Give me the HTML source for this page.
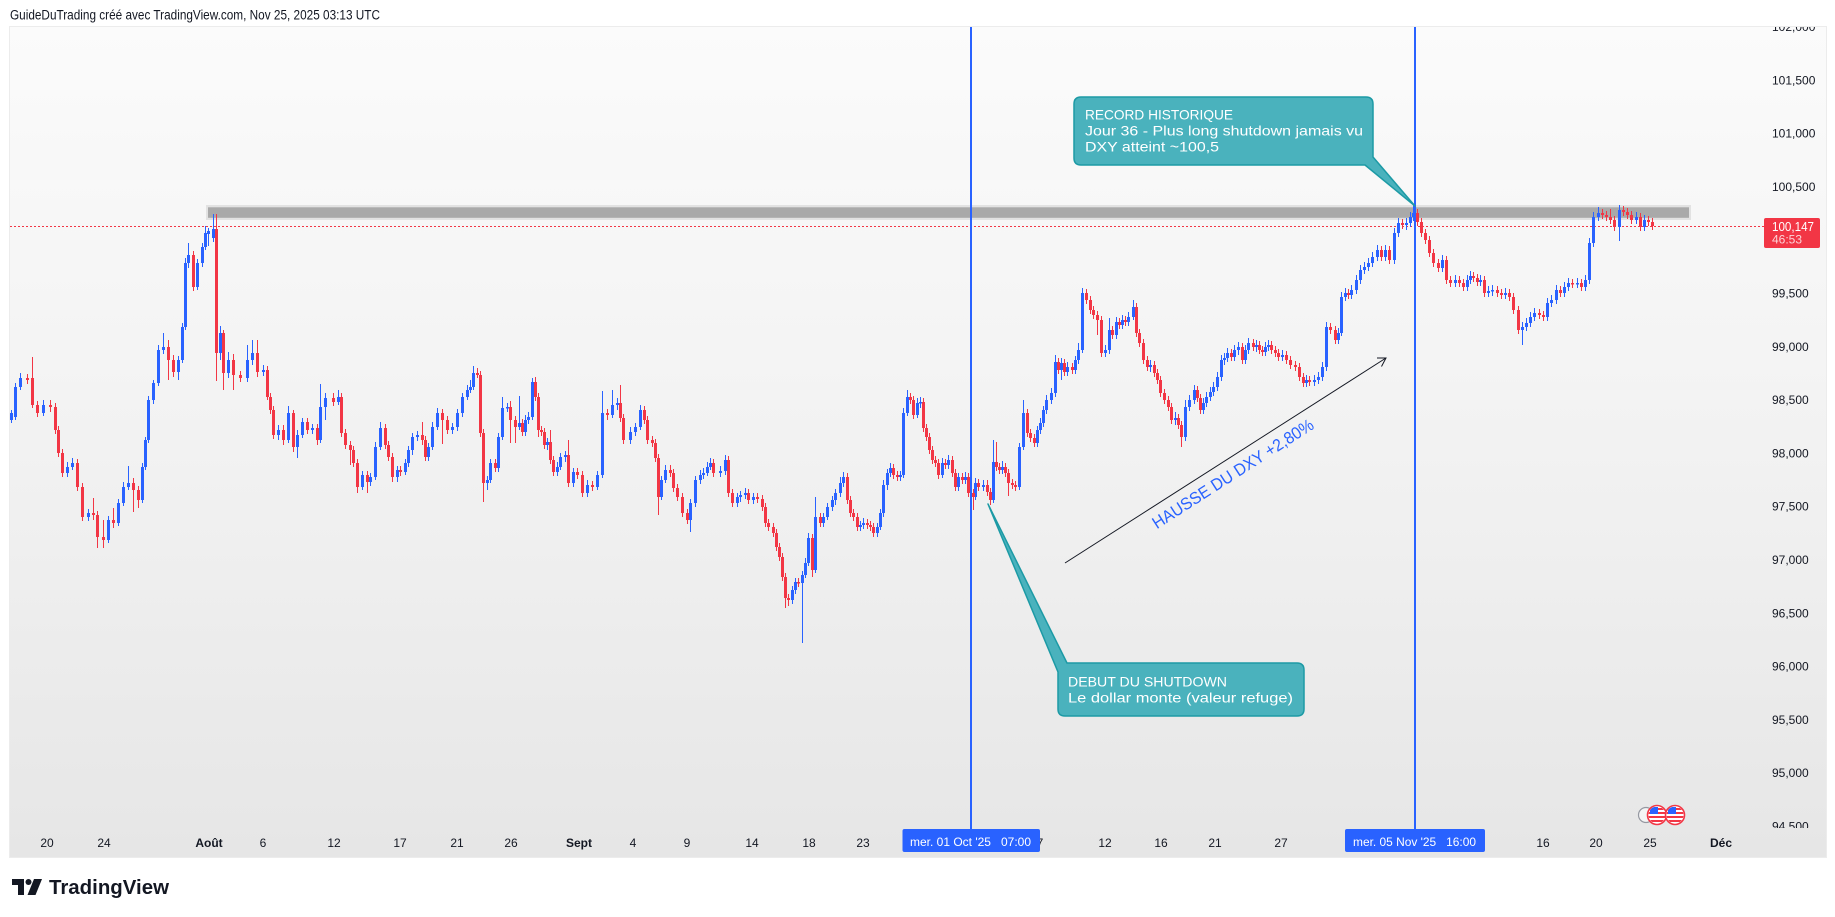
<!DOCTYPE html>
<html>
<head>
<meta charset="utf-8">
<style>
  html,body{margin:0;padding:0;background:#fff;}
  body{width:1835px;height:917px;overflow:hidden;}
  svg{display:block;font-family:"Liberation Sans",Arial,sans-serif;}
</style>
</head>
<body>
<svg width="1835" height="917" viewBox="0 0 1835 917">
  <defs>
    <linearGradient id="bg" x1="0" y1="0" x2="0" y2="1">
      <stop offset="0" stop-color="#fbfbfb"/>
      <stop offset="0.5" stop-color="#f2f2f2"/>
      <stop offset="1" stop-color="#e6e6e6"/>
    </linearGradient>
    <clipPath id="pclip"><rect x="1700" y="27" width="130" height="801"/></clipPath>
    <clipPath id="f1"><circle cx="1657" cy="815" r="8.5"/></clipPath>
    <clipPath id="f2"><circle cx="1675" cy="815" r="8.5"/></clipPath>
  </defs>

  <rect x="0" y="0" width="1835" height="917" fill="#ffffff"/>
  <text x="10" y="19.5" font-size="13.5" fill="#131722" textLength="370" lengthAdjust="spacingAndGlyphs">GuideDuTrading créé avec TradingView.com, Nov 25, 2025 03:13 UTC</text>

  <rect x="9.5" y="26.5" width="1817" height="831" fill="url(#bg)" stroke="#ececec" stroke-width="1"/>

  <rect x="206" y="205" width="1485" height="15" fill="#e2e2e2"/>
  <rect x="208" y="207.3" width="1481" height="10.5" fill="#a9a9a9"/>

  <line x1="10" y1="226.5" x2="1764" y2="226.5" stroke="#F23645" stroke-width="1" stroke-dasharray="2 2"/>

  <!-- blue (up) candles -->
  <path fill="none" stroke="#2962FF" stroke-width="1" d="M11.5 410V423M15.5 383V420M20.5 373V390M43.5 400V416M67.5 462V477M72.5 458V470M88.5 509V521M108.5 516V543M118.5 499V526M123.5 482V506M128.5 466V490M142.5 463V503M145.5 437V470M148.5 396V443M153.5 380V404M158.5 345V386M163.5 333V354M178.5 356V380M182.5 323V363M185.5 258V330M188.5 243V268M197.5 259V290M202.5 243V267M205.5 226V250M208.5 228V246M213.5 214V242M220.5 326V360M228.5 352V378M247.5 345V382M252.5 340V365M263.5 365V376M278.5 425V440M288.5 406V443M297.5 430V458M302.5 418V438M312.5 424V434M320.5 384V443M325.5 393V420M338.5 390V405M362.5 471V490M370.5 473V486M375.5 442V480M380.5 422V450M397.5 466V482M405.5 459V475M408.5 446V467M412.5 433V455M417.5 431V441M428.5 443V461M432.5 422V450M437.5 408V430M452.5 423V434M457.5 409V431M462.5 393V417M467.5 385V400M470.5 380V393M473.5 366V390M487.5 476V490M490.5 459V483M498.5 433V472M502.5 397V440M507.5 403V412M519.5 396V430M525.5 415V436M528.5 412V424M532.5 378V420M547.5 438V450M557.5 462V476M560.5 453V470M565.5 451V462M573.5 468V487M587.5 480V497M597.5 471V490M602.5 391V478M612.5 390V418M617.5 398V410M630.5 427V444M635.5 423V436M640.5 405V430M661.5 476V500M665.5 465V483M690.5 499V532M695.5 476V507M700.5 470V484M703.5 468V479M707.5 462V476M710.5 458V470M720.5 466V477M725.5 455V475M737.5 493V507M740.5 491V502M745.5 488V499M753.5 493V504M792.5 586V604M795.5 578V594M802.5 571V643M805.5 558V578M808.5 533V566M815.5 497V573M823.5 513V527M827.5 503V520M832.5 496V511M835.5 489V505M840.5 477V497M843.5 472V487M860.5 521V531M863.5 518V529M877.5 523V537M880.5 509V530M883.5 480V517M887.5 469V490M890.5 463V477M900.5 471V481M903.5 408V478M907.5 390V416M917.5 398V418M920.5 397V408M942.5 458V478M948.5 455V469M958.5 473V491M965.5 472V484M975.5 478V500M983.5 480V491M993.5 440V503M1002.5 461V474M1019.5 443V490M1023.5 400V450M1037.5 426V447M1040.5 418V434M1043.5 406V427M1046.5 395V414M1051.5 388V404M1055.5 355V397M1061.5 358V380M1067.5 362V376M1075.5 356V374M1078.5 343V364M1082.5 288V353M1105.5 345V357M1109.5 318V354M1116.5 317V339M1122.5 315V329M1128.5 312V326M1133.5 300V320M1150.5 360V372M1175.5 412V425M1185.5 400V441M1189.5 395V411M1194.5 385V404M1203.5 398V414M1206.5 392V407M1210.5 387V401M1213.5 382V396M1217.5 372V391M1221.5 355V381M1224.5 353V365M1227.5 348V362M1234.5 345V361M1238.5 342V355M1245.5 345V364M1248.5 338V354M1256.5 340V352M1265.5 342V356M1268.5 340V351M1282.5 350V361M1306.5 375V387M1314.5 375V386M1318.5 372V384M1322.5 362V381M1326.5 322V371M1338.5 328V344M1341.5 292V336M1345.5 288V301M1351.5 285V299M1356.5 275V294M1360.5 265V284M1364.5 262V274M1368.5 258V271M1372.5 252V267M1377.5 245V261M1385.5 245V261M1394.5 228V264M1398.5 218V237M1406.5 218V230M1410.5 212V227M1413.5 205V221M1442.5 255V272M1455.5 275V287M1467.5 275V291M1470.5 271V284M1480.5 275V286M1488.5 286V297M1492.5 285V296M1505.5 288V299M1522.5 322V345M1526.5 318V331M1530.5 312V327M1534.5 308V321M1547.5 298V321M1551.5 295V307M1556.5 285V304M1564.5 282V297M1568.5 278V291M1577.5 278V288M1585.5 275V291M1589.5 238V284M1593.5 212V247M1598.5 207V221M1619.5 205V241M1636.5 212V224M1644.5 215V231"/>
  <path fill="none" stroke="#2962FF" stroke-width="3" d="M11.5 413V420M15.5 387V417M20.5 378V387M43.5 405V413M67.5 467V473M72.5 463V467M88.5 513V517M108.5 520V540M118.5 503V523M123.5 487V503M128.5 483V487M142.5 467V500M145.5 440V467M148.5 400V440M153.5 383V400M158.5 350V383M163.5 347V350M178.5 360V372M182.5 327V360M185.5 263V327M188.5 255V263M197.5 263V287M202.5 247V263M205.5 233V247M208.5 231V234M213.5 229V238M220.5 333V353M228.5 360V373M247.5 360V378M252.5 353V360M263.5 370V372M278.5 430V435M288.5 413V440M297.5 435V447M302.5 422V435M312.5 428V430M320.5 407V440M325.5 398V407M338.5 397V402M362.5 475V487M370.5 477V482M375.5 447V477M380.5 428V447M397.5 470V477M405.5 463V472M408.5 450V463M412.5 437V450M417.5 435V437M428.5 447V457M432.5 427V447M437.5 413V427M452.5 427V430M457.5 413V427M462.5 397V413M467.5 390V397M470.5 387V390M473.5 373V387M487.5 480V483M490.5 463V480M498.5 437V468M502.5 408V437M507.5 407V408.5M519.5 423V427M525.5 420V432M528.5 417V420M532.5 382V417M547.5 442V445M557.5 467V472M560.5 457V467M565.5 455V457M573.5 472V483M587.5 485V493M597.5 475V487M602.5 413V475M612.5 405V415M617.5 403V405M630.5 432V440M635.5 427V432M640.5 410V427M661.5 480V497M665.5 470V480M690.5 503V520M695.5 480V503M700.5 475V480M703.5 473V475M707.5 467V473M710.5 463V467M720.5 471V473M725.5 460V471M737.5 497V503M740.5 495V497M745.5 493V495M753.5 497V500M792.5 590V600M795.5 582V590M802.5 575V583M805.5 563V575M808.5 538V563M815.5 517V570M823.5 517V523M827.5 507V517M832.5 500V507M835.5 493V500M840.5 483V493M843.5 477V483M860.5 525V527M863.5 523V525M877.5 527V533M880.5 513V527M883.5 485V513M887.5 473V485M890.5 468V473M900.5 475V477M903.5 413V475M907.5 397V413M917.5 403V415M920.5 402V403.5M942.5 463V475M948.5 460V465M958.5 477V487M965.5 477V480M975.5 483V497M983.5 485V487M993.5 462V500M1002.5 467V470M1019.5 447V487M1023.5 413V447M1037.5 430V443M1040.5 423V430M1043.5 410V423M1046.5 400V410M1051.5 393V400M1055.5 362V393M1061.5 363V370M1067.5 367V372M1075.5 360V370M1078.5 350V360M1082.5 293V350M1105.5 350V353M1109.5 330V350M1116.5 322V335M1122.5 320V325M1128.5 317V322M1133.5 307V317M1150.5 365V367M1175.5 418V420M1185.5 407V437M1189.5 400V407M1194.5 390V400M1203.5 403V410M1206.5 397V403M1210.5 392V397M1213.5 387V392M1217.5 377V387M1221.5 360V377M1224.5 358V360M1227.5 353V358M1234.5 350V357M1238.5 347V350M1245.5 350V360M1248.5 343V350M1256.5 345V347M1265.5 347V352M1268.5 345V347M1282.5 355V357M1306.5 380V383M1314.5 380V382M1318.5 377V380M1322.5 367V377M1326.5 327V367M1338.5 333V340M1341.5 297V333M1345.5 293V297M1351.5 290V295M1356.5 280V290M1360.5 270V280M1364.5 267V270M1368.5 263V267M1372.5 257V263M1377.5 250V257M1385.5 250V257M1394.5 233V260M1398.5 223V233M1406.5 223V225M1410.5 217V223M1413.5 213V217M1442.5 260V268M1455.5 280V283M1467.5 280V287M1470.5 276V280M1480.5 280V282M1488.5 291V293M1492.5 290V291.5M1505.5 293V295M1522.5 327V330M1526.5 323V327M1530.5 317V323M1534.5 313V317M1547.5 303V317M1551.5 300V303M1556.5 290V300M1564.5 287V293M1568.5 283V287M1577.5 283V284.5M1585.5 280V287M1589.5 243V280M1593.5 217V243M1598.5 213V217M1619.5 210V227M1636.5 217V220M1644.5 220V227"/>

  <!-- red (down) candles -->
  <path fill="none" stroke="#F23645" stroke-width="1" d="M27.5 374V384M32.5 357V408M37.5 401V417M50.5 400V412M55.5 403V434M58.5 426V457M62.5 449V477M77.5 459V491M82.5 483V521M93.5 498V520M97.5 511V548M103.5 520V548M113.5 508V528M133.5 478V512M138.5 486V508M168.5 340V380M173.5 355V377M193.5 251V291M216.5 214V381M223.5 330V390M233.5 354V390M240.5 371V382M257.5 340V377M267.5 366V400M270.5 393V414M273.5 406V439M283.5 425V445M293.5 410V452M307.5 418V434M317.5 424V445M333.5 393V406M341.5 393V437M345.5 429V449M350.5 441V465M353.5 446V467M357.5 459V493M367.5 471V493M385.5 424V449M388.5 441V461M392.5 453V482M400.5 466V476M422.5 422V445M425.5 436V461M442.5 409V444M447.5 416V434M477.5 368V378M480.5 371V437M483.5 429V502M495.5 459V472M510.5 401V443M515.5 416V443M522.5 419V436M535.5 377V401M538.5 393V437M541.5 426V436M544.5 428V449M550.5 430V464M553.5 456V476M568.5 440V487M577.5 468V479M582.5 471V497M592.5 481V491M607.5 409V420M620.5 385V422M623.5 414V444M644.5 406V424M647.5 416V444M652.5 436V447M655.5 439V462M658.5 454V515M670.5 465V477M673.5 469V492M677.5 484V501M682.5 493V517M687.5 509V524M713.5 459V477M728.5 456V497M732.5 489V507M748.5 489V504M757.5 493V503M762.5 495V511M765.5 503V527M768.5 519V531M773.5 523V537M776.5 529V551M779.5 543V561M782.5 553V581M785.5 573V608M788.5 594V606M798.5 578V587M812.5 534V577M820.5 513V527M847.5 473V504M850.5 496V517M853.5 509V521M857.5 513V531M867.5 519V529M870.5 521V531M873.5 523V537M893.5 464V479M897.5 471V481M910.5 393V404M913.5 396V419M923.5 398V432M926.5 424V441M929.5 433V454M932.5 446V464M935.5 456V467M938.5 459V479M945.5 459V469M952.5 456V477M955.5 469V491M962.5 473V484M968.5 473V497M973.5 489V510M978.5 479V491M987.5 480V496M990.5 488V505M996.5 442V471M999.5 463V474M1005.5 463V477M1008.5 469V496M1012.5 479V489M1015.5 481V491M1027.5 409V437M1030.5 429V442M1034.5 434V447M1058.5 358V374M1064.5 359V376M1072.5 363V374M1086.5 289V304M1090.5 296V314M1093.5 306V319M1097.5 311V335M1101.5 316V357M1112.5 326V339M1119.5 318V329M1125.5 316V326M1136.5 303V337M1139.5 329V347M1143.5 339V364M1147.5 356V371M1154.5 361V377M1157.5 369V384M1160.5 376V397M1164.5 389V404M1168.5 396V411M1171.5 403V424M1178.5 414V429M1181.5 421V447M1197.5 386V402M1200.5 394V414M1231.5 349V361M1242.5 343V364M1253.5 339V351M1259.5 341V354M1262.5 346V356M1271.5 341V354M1275.5 346V357M1278.5 349V361M1286.5 351V364M1290.5 356V369M1295.5 361V371M1299.5 363V381M1303.5 373V387M1309.5 376V386M1330.5 323V334M1335.5 326V344M1348.5 289V299M1381.5 246V261M1389.5 246V264M1402.5 219V229M1417.5 209V226M1421.5 218V237M1425.5 229V244M1429.5 236V257M1433.5 249V267M1438.5 259V272M1446.5 256V284M1450.5 276V287M1459.5 276V287M1463.5 279V291M1473.5 272V282M1477.5 274V286M1484.5 276V297M1497.5 286V297M1501.5 289V299M1509.5 289V301M1513.5 293V314M1518.5 306V334M1539.5 309V319M1543.5 311V321M1560.5 286V297M1572.5 279V288M1581.5 279V291M1602.5 209V219M1606.5 211V221M1610.5 209V224M1614.5 216V231M1623.5 206V216M1627.5 208V219M1631.5 211V224M1640.5 213V231M1648.5 216V226M1652.5 218V230"/>
  <path fill="none" stroke="#F23645" stroke-width="3" d="M27.5 378V380M32.5 378V405M37.5 405V413M50.5 405V407M55.5 407V430M58.5 430V453M62.5 453V473M77.5 463V487M82.5 487V517M93.5 513V515M97.5 515V537M103.5 537V540M113.5 520V523M133.5 483V490M138.5 490V500M168.5 347V360M173.5 360V372M193.5 255V287M216.5 229V353M223.5 333V373M233.5 360V375M240.5 375V378M257.5 353V372M267.5 370V397M270.5 397V410M273.5 410V435M283.5 430V440M293.5 413V447M307.5 422V430M317.5 428V440M333.5 398V402M341.5 397V433M345.5 433V445M350.5 445V450M353.5 450V463M357.5 463V487M367.5 475V482M385.5 428V445M388.5 445V457M392.5 457V477M400.5 470V472M422.5 435V440M425.5 440V457M442.5 413V420M447.5 420V430M477.5 373V375M480.5 375V433M483.5 433V483M495.5 463V468M510.5 407V420M515.5 420V427M522.5 423V432M535.5 382V397M538.5 397V430M541.5 430V432M544.5 432V445M550.5 442V460M553.5 460V472M568.5 455V483M577.5 472V475M582.5 475V493M592.5 485V487M607.5 413V415M620.5 403V418M623.5 418V440M644.5 410V420M647.5 420V440M652.5 440V443M655.5 443V458M658.5 458V497M670.5 470V473M673.5 473V488M677.5 488V497M682.5 497V513M687.5 513V520M713.5 463V473M728.5 460V493M732.5 493V503M748.5 493V500M757.5 497V499M762.5 499V507M765.5 507V523M768.5 523V527M773.5 527V533M776.5 533V547M779.5 547V557M782.5 557V577M785.5 577V598M788.5 598V600M798.5 582V583.5M812.5 538V570M820.5 517V523M847.5 477V500M850.5 500V513M853.5 513V517M857.5 517V527M867.5 523V525M870.5 525V527M873.5 527V533M893.5 468V475M897.5 475V477M910.5 397V400M913.5 400V415M923.5 402V428M926.5 428V437M929.5 437V450M932.5 450V460M935.5 460V463M938.5 463V475M945.5 463V465M952.5 460V473M955.5 473V487M962.5 477V480M968.5 477V493M973.5 493V497M978.5 483V487M987.5 485V492M990.5 492V500M996.5 462V467M999.5 467V470M1005.5 467V473M1008.5 473V483M1012.5 483V485M1015.5 485V487M1027.5 413V433M1030.5 433V438M1034.5 438V443M1058.5 362V370M1064.5 363V372M1072.5 367V370M1086.5 293V300M1090.5 300V310M1093.5 310V315M1097.5 315V320M1101.5 320V353M1112.5 330V335M1119.5 322V325M1125.5 320V322M1136.5 307V333M1139.5 333V343M1143.5 343V360M1147.5 360V367M1154.5 365V373M1157.5 373V380M1160.5 380V393M1164.5 393V400M1168.5 400V407M1171.5 407V420M1178.5 418V425M1181.5 425V437M1197.5 390V398M1200.5 398V410M1231.5 353V357M1242.5 347V360M1253.5 343V347M1259.5 345V350M1262.5 350V352M1271.5 345V350M1275.5 350V353M1278.5 353V357M1286.5 355V360M1290.5 360V365M1295.5 365V367M1299.5 367V377M1303.5 377V383M1309.5 380V382M1330.5 327V330M1335.5 330V340M1348.5 293V295M1381.5 250V257M1389.5 250V260M1402.5 223V225M1417.5 213V222M1421.5 222V233M1425.5 233V240M1429.5 240V253M1433.5 253V263M1438.5 263V268M1446.5 260V280M1450.5 280V283M1459.5 280V283M1463.5 283V287M1473.5 276V278M1477.5 278V282M1484.5 280V293M1497.5 290V293M1501.5 293V295M1509.5 293V297M1513.5 297V310M1518.5 310V330M1539.5 313V315M1543.5 315V317M1560.5 290V293M1572.5 283V284.5M1581.5 283V287M1602.5 213V215M1606.5 215V217M1610.5 217V220M1614.5 220V227M1623.5 210V212M1627.5 212V215M1631.5 215V220M1640.5 217V227M1648.5 220V222M1652.5 222V226"/>

  <!-- vertical lines -->
  <rect x="970" y="27" width="2" height="802" fill="#2962FF"/>
  <rect x="1414" y="27" width="2" height="802" fill="#2962FF"/>

  <!-- arrow -->
  <line x1="1065" y1="563" x2="1386" y2="358" stroke="#131722" stroke-width="1"/>
  <polyline points="1377,358 1386,358 1381.5,366.5" fill="none" stroke="#131722" stroke-width="1"/>
  <text x="0" y="0" font-size="17" fill="#2962FF" text-anchor="middle" dominant-baseline="central" textLength="188" lengthAdjust="spacingAndGlyphs" transform="translate(1233,474) rotate(-32.7)">HAUSSE DU DXY +2,80%</text>

  <!-- callout 1 -->
  <path d="M1081,97 H1366 Q1373,97 1373,104 V157 L1415,206 L1365,165 H1081 Q1074,165 1074,158 V104 Q1074,97 1081,97 Z" fill="#4ab2bd" stroke="#1c9aa5" stroke-width="1.5" stroke-linejoin="round"/>
  <text x="1085" y="119.5" font-size="14" fill="#ffffff" textLength="148" lengthAdjust="spacingAndGlyphs">RECORD HISTORIQUE</text>
  <text x="1085" y="135.7" font-size="14" fill="#ffffff" textLength="278" lengthAdjust="spacingAndGlyphs">Jour 36 - Plus long shutdown jamais vu</text>
  <text x="1085" y="151.7" font-size="14" fill="#ffffff" textLength="134" lengthAdjust="spacingAndGlyphs">DXY atteint ~100,5</text>

  <!-- callout 2 -->
  <path d="M1067,663 H1297 Q1304,663 1304,670 V709 Q1304,716 1297,716 H1065 Q1058,716 1058,709 V672 L988,504 Z" fill="#4ab2bd" stroke="#1c9aa5" stroke-width="1.5" stroke-linejoin="round"/>
  <text x="1068" y="686.5" font-size="14" fill="#ffffff" textLength="159" lengthAdjust="spacingAndGlyphs">DEBUT DU SHUTDOWN</text>
  <text x="1068" y="702.5" font-size="14" fill="#ffffff" textLength="225" lengthAdjust="spacingAndGlyphs">Le dollar monte (valeur refuge)</text>

  <!-- price axis labels -->
  <g clip-path="url(#pclip)" font-size="12" fill="#131722">
    <text x="1772" y="31">102,000</text>
    <text x="1772" y="84.3">101,500</text>
    <text x="1772" y="137.6">101,000</text>
    <text x="1772" y="190.9">100,500</text>
    <text x="1772" y="297.5">99,500</text>
    <text x="1772" y="350.8">99,000</text>
    <text x="1772" y="404.1">98,500</text>
    <text x="1772" y="457.4">98,000</text>
    <text x="1772" y="510.7">97,500</text>
    <text x="1772" y="564">97,000</text>
    <text x="1772" y="617.3">96,500</text>
    <text x="1772" y="670.6">96,000</text>
    <text x="1772" y="723.9">95,500</text>
    <text x="1772" y="777.2">95,000</text>
    <text x="1772" y="830.5">94,500</text>
  </g>

  <!-- price tag -->
  <rect x="1764" y="218" width="56" height="30" rx="2" fill="#F23645"/>
  <text x="1772" y="231" font-size="12.5" fill="#ffffff" textLength="42" lengthAdjust="spacingAndGlyphs">100,147</text>
  <text x="1772" y="243.5" font-size="12" fill="#ffffff" fill-opacity="0.78">46:53</text>

  <!-- flags -->
  <circle cx="1646" cy="815" r="7.5" fill="#f4f4f4" stroke="#9598a1" stroke-width="1.2"/>
  <g>
    <circle cx="1657" cy="815" r="9.5" fill="#ffffff" stroke="#F23645" stroke-width="1.6"/>
    <g clip-path="url(#f1)">
      <rect x="1648" y="808" width="18" height="2" fill="#F23645"/>
      <rect x="1648" y="812" width="18" height="2" fill="#F23645"/>
      <rect x="1648" y="816" width="18" height="2" fill="#F23645"/>
      <rect x="1648" y="820" width="18" height="2" fill="#F23645"/>
      <rect x="1650" y="807" width="8" height="7" fill="#2962FF"/>
    </g>
    <circle cx="1675" cy="815" r="9.5" fill="#ffffff" stroke="#F23645" stroke-width="1.6"/>
    <g clip-path="url(#f2)">
      <rect x="1666" y="808" width="18" height="2" fill="#F23645"/>
      <rect x="1666" y="812" width="18" height="2" fill="#F23645"/>
      <rect x="1666" y="816" width="18" height="2" fill="#F23645"/>
      <rect x="1666" y="820" width="18" height="2" fill="#F23645"/>
      <rect x="1668" y="807" width="8" height="7" fill="#2962FF"/>
    </g>
  </g>

  <!-- time axis labels -->
  <g font-size="12" fill="#131722" text-anchor="middle">
    <text x="47" y="847">20</text>
    <text x="104" y="847">24</text>
    <text x="209" y="847" font-weight="bold">Août</text>
    <text x="263" y="847">6</text>
    <text x="334" y="847">12</text>
    <text x="400" y="847">17</text>
    <text x="457" y="847">21</text>
    <text x="511" y="847">26</text>
    <text x="579" y="847" font-weight="bold">Sept</text>
    <text x="633" y="847">4</text>
    <text x="687" y="847">9</text>
    <text x="752" y="847">14</text>
    <text x="809" y="847">18</text>
    <text x="863" y="847">23</text>
    <text x="1040" y="847">7</text>
    <text x="1105" y="847">12</text>
    <text x="1161" y="847">16</text>
    <text x="1215" y="847">21</text>
    <text x="1281" y="847">27</text>
    <text x="1543" y="847">16</text>
    <text x="1596" y="847">20</text>
    <text x="1650" y="847">25</text>
    <text x="1721" y="847" font-weight="bold">Déc</text>
  </g>

  <!-- time axis crosshair boxes -->
  <rect x="902.5" y="829" width="137.5" height="23" rx="2" fill="#2962FF"/>
  <text x="910" y="846" font-size="12" fill="#ffffff" textLength="121" lengthAdjust="spacingAndGlyphs" xml:space="preserve">mer. 01 Oct '25   07:00</text>
  <rect x="1345" y="829" width="140" height="23" rx="2" fill="#2962FF"/>
  <text x="1353" y="846" font-size="12" fill="#ffffff" textLength="123" lengthAdjust="spacingAndGlyphs" xml:space="preserve">mer. 05 Nov '25   16:00</text>

  <!-- TradingView logo -->
  <g fill="#131722">
    <path d="M12,879 H24 V895 H18 V885 H12 Z"/>
    <circle cx="28.5" cy="882" r="3"/>
    <path d="M34,879 H42 L35.5,895 H27.5 Z"/>
  </g>
  <text x="49" y="894" font-size="20" font-weight="bold" fill="#131722" textLength="120" lengthAdjust="spacingAndGlyphs">TradingView</text>
</svg>
</body>
</html>
